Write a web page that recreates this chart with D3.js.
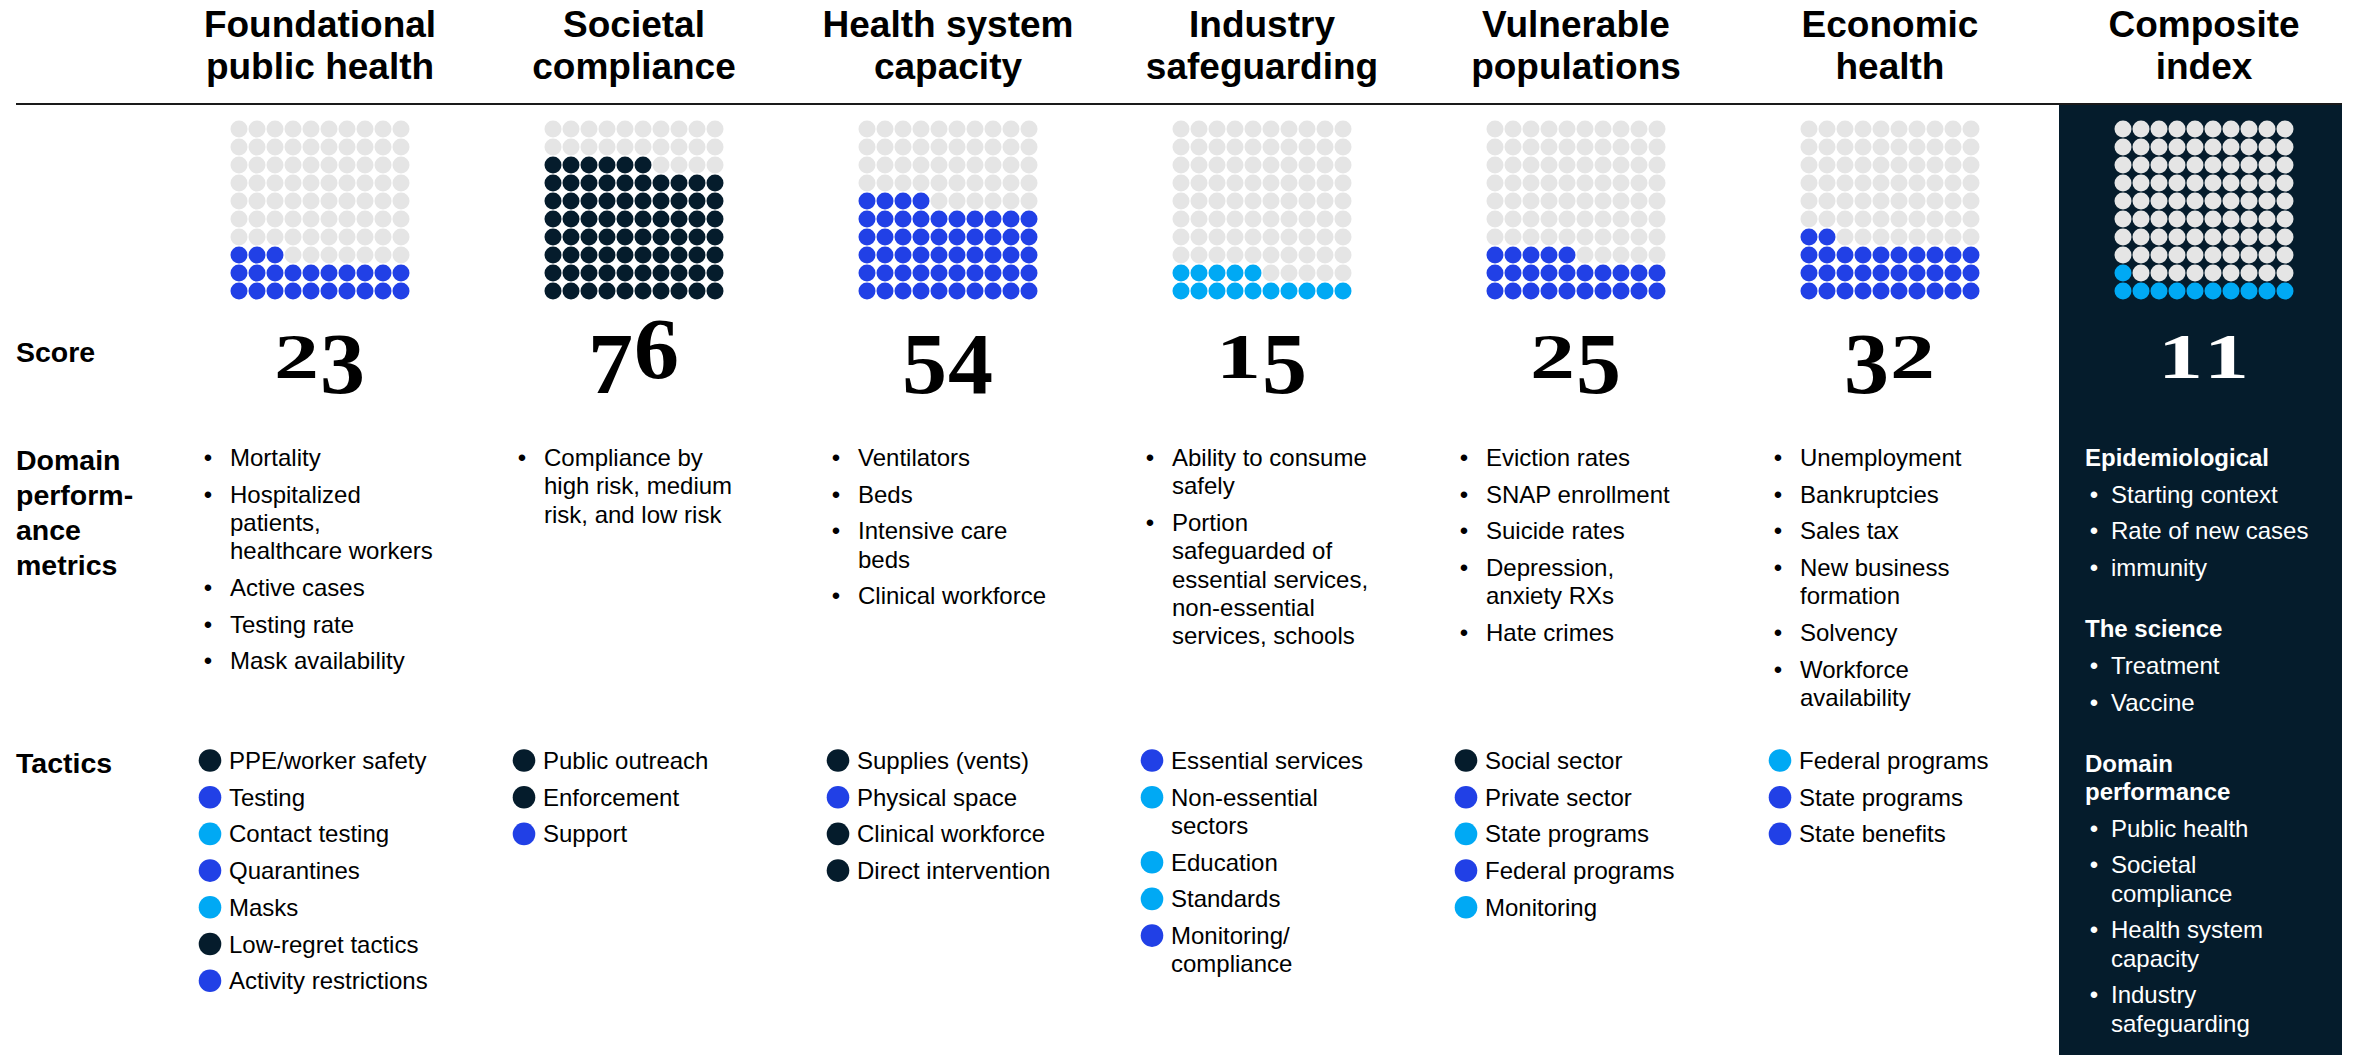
<!DOCTYPE html>
<html>
<head>
<meta charset="utf-8">
<script src="https://cdn.jsdelivr.net/npm/d3@7"></script>
<style>
body { margin: 0; background: #fff; }
text { font-family: "Liberation Sans", Arial, Helvetica, sans-serif; fill: #000; }
</style>
</head>
<body>
<div id="chart"></div>
<script>
// domains across the top, one score out of 100 each
var domains = ["Foundational\npublic health", "Societal\ncompliance", "Health system\ncapacity",
    "Industry\nsafeguarding", "Vulnerable\npopulations", "Economic\nhealth", "Composite\nindex"];
var scores = [23, 76, 54, 15, 25, 32, 11];
var scoreColours = ["blue", "navy", "blue", "cyan", "blue", "blue", "cyan"];
var rowLabels = ["Score", "Domain\nperform-\nance\nmetrics", "Tactics"];

var metrics = [
    ["Mortality", "Hospitalized\npatients,\nhealthcare workers", "Active cases", "Testing rate", "Mask availability"],
    ["Compliance by\nhigh risk, medium\nrisk, and low risk"],
    ["Ventilators", "Beds", "Intensive care\nbeds", "Clinical workforce"],
    ["Ability to consume\nsafely", "Portion\nsafeguarded of\nessential services,\nnon-essential\nservices, schools"],
    ["Eviction rates", "SNAP enrollment", "Suicide rates", "Depression,\nanxiety RXs", "Hate crimes"],
    ["Unemployment", "Bankruptcies", "Sales tax", "New business\nformation", "Solvency", "Workforce\navailability"]
];

var tacticLabels = [
    ["PPE/worker safety", "Testing", "Contact testing", "Quarantines", "Masks", "Low-regret tactics", "Activity restrictions"],
    ["Public outreach", "Enforcement", "Support"],
    ["Supplies (vents)", "Physical space", "Clinical workforce", "Direct intervention"],
    ["Essential services", "Non-essential\nsectors", "Education", "Standards", "Monitoring/\ncompliance"],
    ["Social sector", "Private sector", "State programs", "Federal programs", "Monitoring"],
    ["Federal programs", "State programs", "State benefits"]
];
var tacticColours = [
    ["navy", "blue", "cyan", "blue", "cyan", "navy", "blue"],
    ["navy", "navy", "blue"],
    ["navy", "blue", "navy", "navy"],
    ["blue", "cyan", "cyan", "cyan", "blue"],
    ["navy", "blue", "cyan", "blue", "cyan"],
    ["cyan", "blue", "blue"]
];

var compositeHeads = ["Epidemiological", "The science", "Domain\nperformance"];
var compositeItems = [
    ["Starting context", "Rate of new cases", "immunity"],
    ["Treatment", "Vaccine"],
    ["Public health", "Societal\ncompliance", "Health system\ncapacity", "Industry\nsafeguarding"]
];

var width = 2357, height = 1055;
var cfg = {
    lineH: 28.3,
    itemGap: 8.4,
    groupGap: 24.3,
    dotR: 8.5,
    tacticR: 11.3
};
var navy = "#051c2c";
var colour = d3.scaleOrdinal()
    .domain(["navy", "blue", "cyan"])
    .range([navy, "#2140e6", "#00a9f4"]);
var emptyDot = "#e5e5e5";

var svg = d3.select("#chart").append("svg")
    .attr("width", width)
    .attr("height", height);

var x = d3.scaleBand()
    .domain(d3.range(domains.length))
    .range([163, 163 + 314 * domains.length]);
function cx(i) {
    return x(i) + x.bandwidth() / 2;
}
var dotX = d3.scaleLinear().domain([0, 9]).range([-81, 81]);
var dotY = d3.scaleLinear().domain([0, 9]).range([291, 129]);

// dark panel behind the composite column
var last = domains.length - 1;
svg.append("rect")
    .attr("x", x(last) + 12)
    .attr("y", 104)
    .attr("width", 283)
    .attr("height", height - 104)
    .style("fill", navy);

svg.append("line")
    .attr("x1", 16).attr("x2", x(last) + 295)
    .attr("y1", 104).attr("y2", 104)
    .style("stroke", "#1a1a1a")
    .style("stroke-width", 2);

// column headers
var heads = svg.append("g").selectAll("text")
    .data(domains)
    .enter().append("text")
    .attr("text-anchor", "middle")
    .style("font-size", "37px")
    .style("font-weight", "bold");
heads.selectAll("tspan")
    .data(function(d, i) {
        return d.split("\n").map(function(t) { return {t: t, i: i}; });
    })
    .enter().append("tspan")
    .attr("x", function(d) { return cx(d.i); })
    .attr("y", function(d, j) { return 37 + j * 42; })
    .text(function(d) { return d.t; });

// row labels
var labelY = [362, 470, 773];
var rl = svg.append("g").selectAll("text")
    .data(rowLabels)
    .enter().append("text")
    .style("font-size", "28.5px")
    .style("font-weight", "bold");
rl.selectAll("tspan")
    .data(function(d, i) {
        return d.split("\n").map(function(t) { return {t: t, i: i}; });
    })
    .enter().append("tspan")
    .attr("x", 16)
    .attr("y", function(d, j) { return labelY[d.i] + j * 35; })
    .text(function(d) { return d.t; });

// waffle grids, filled from the bottom row, left to right
var grids = svg.append("g").selectAll("g")
    .data(scores)
    .enter().append("g")
    .attr("transform", function(d, i) { return "translate(" + cx(i) + ",0)"; });
grids.selectAll("circle")
    .data(function(d, i) {
        return d3.range(100).map(function(k) {
            return {row: Math.floor(k / 10), col: k % 10, on: k < d, c: scoreColours[i]};
        });
    })
    .enter().append("circle")
    .attr("cx", function(d) { return dotX(d.col); })
    .attr("cy", function(d) { return dotY(d.row); })
    .attr("r", cfg.dotR)
    .style("fill", function(d) { return d.on ? colour(d.c) : emptyDot; });

// score numbers drawn as old-style figures:
// 0,1,2 sit at x-height, 3 4 5 7 9 hang below, 6 8 rise above
var descDigits = "34579", ascDigits = "68";
var digitW = 46;
function isTall(ch) { return descDigits.indexOf(ch) >= 0 || ascDigits.indexOf(ch) >= 0; }
var nums = svg.append("g").selectAll("text")
    .data(scores)
    .enter().append("text")
    .style("font-family", "'Liberation Serif', 'Times New Roman', serif")
    .style("font-weight", "bold")
    .style("fill", function(d, i) { return i === last ? "#fff" : "#000"; });
nums.selectAll("tspan")
    .data(function(d, i) {
        var s = String(d).split("");
        return s.map(function(ch, j) { return {ch: ch, j: j, n: s.length, i: i}; });
    })
    .enter().append("tspan")
    .attr("x", function(d) { return cx(d.i) + (d.j - d.n / 2) * digitW; })
    .attr("y", function(d) { return descDigits.indexOf(d.ch) >= 0 ? 393 : 378; })
    .style("font-size", function(d) { return isTall(d.ch) ? "86px" : "64px"; })
    .attr("textLength", digitW - 1)
    .attr("lengthAdjust", "spacingAndGlyphs")
    .text(function(d) { return d.ch; });

// bulleted domain metrics
metrics.forEach(function(items, i) {
    var g = svg.append("g");
    var y = 466;
    items.forEach(function(item) {
        var lines = item.split("\n");
        g.append("text")
            .attr("x", cx(i) - 112)
            .attr("y", y)
            .attr("text-anchor", "middle")
            .style("font-size", "24px")
            .text("•");
        g.append("text")
            .style("font-size", "24px")
            .selectAll("tspan")
            .data(lines)
            .enter().append("tspan")
            .attr("x", cx(i) - 90)
            .attr("y", function(d, j) { return y + j * cfg.lineH; })
            .text(function(d) { return d; });
        y += lines.length * cfg.lineH + cfg.itemGap;
    });
});

// tactics with coloured markers
tacticLabels.forEach(function(items, i) {
    var g = svg.append("g");
    var y = 769;
    items.forEach(function(item, k) {
        var lines = item.split("\n");
        g.append("circle")
            .attr("cx", cx(i) - 110)
            .attr("cy", y - 8.5)
            .attr("r", cfg.tacticR)
            .style("fill", colour(tacticColours[i][k]));
        g.append("text")
            .style("font-size", "24px")
            .selectAll("tspan")
            .data(lines)
            .enter().append("tspan")
            .attr("x", cx(i) - 91)
            .attr("y", function(d, j) { return y + j * cfg.lineH; })
            .text(function(d) { return d; });
        y += lines.length * cfg.lineH + cfg.itemGap;
    });
});

// composite index notes inside the dark panel
var cg = svg.append("g");
var px = x(last) + 38;
var y = 466;
compositeHeads.forEach(function(head, gi) {
    var hl = head.split("\n");
    cg.append("text")
        .style("font-size", "24px")
        .style("font-weight", "bold")
        .style("fill", "#fff")
        .selectAll("tspan")
        .data(hl)
        .enter().append("tspan")
        .attr("x", px)
        .attr("y", function(d, j) { return y + j * cfg.lineH; })
        .text(function(d) { return d; });
    y += hl.length * cfg.lineH + cfg.itemGap;
    compositeItems[gi].forEach(function(item) {
        var lines = item.split("\n");
        cg.append("text")
            .attr("x", px + 9)
            .attr("y", y)
            .attr("text-anchor", "middle")
            .style("font-size", "24px")
            .style("fill", "#fff")
            .text("•");
        cg.append("text")
            .style("font-size", "24px")
            .style("fill", "#fff")
            .selectAll("tspan")
            .data(lines)
            .enter().append("tspan")
            .attr("x", px + 26)
            .attr("y", function(d, j) { return y + j * cfg.lineH; })
            .text(function(d) { return d; });
        y += lines.length * cfg.lineH + cfg.itemGap;
    });
    y += cfg.groupGap;
});
</script>
</body>
</html>
